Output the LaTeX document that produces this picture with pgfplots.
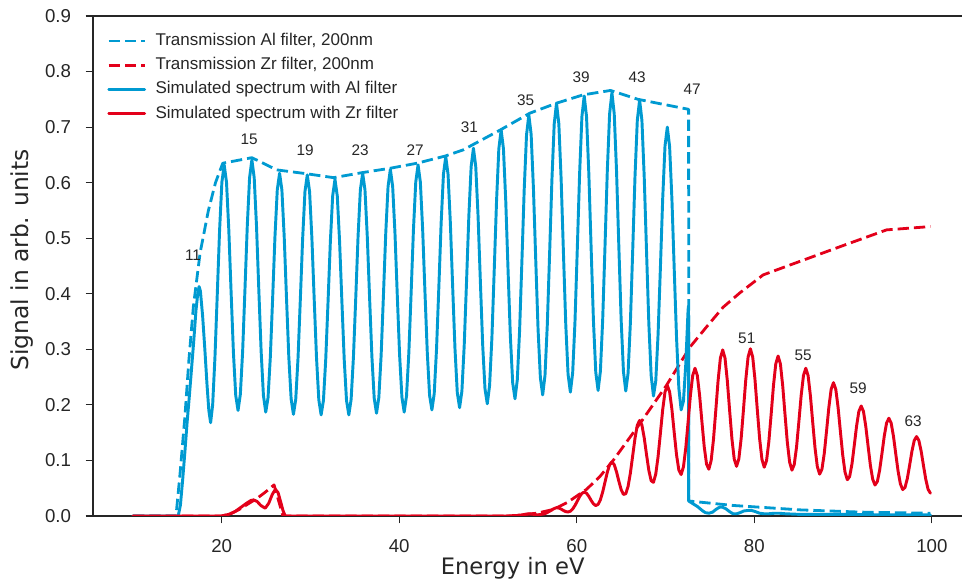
\documentclass[border=0pt]{standalone}
\usepackage{pgfplots}
\pgfplotsset{compat=1.18}
\usepackage{fontspec}
\setmainfont{Liberation Sans}
\newfontfamily\dejavu{DejaVu Sans}
\definecolor{alblue}{RGB}{0,154,209}
\definecolor{zrred}{RGB}{227,0,26}
\definecolor{txt}{RGB}{38,38,38}
\begin{document}
\begin{tikzpicture}
\begin{axis}[
  at={(0,0)}, anchor=south west,
  scale only axis, width=651.75pt, height=375pt,
  xmin=5.5, xmax=103.4, ymin=0, ymax=0.9,
  axis x line*=box, axis y line*=left,
  xtick pos=bottom, ytick pos=left,
  xtick={20,40,60,80,100},
  ytick={0,0.1,0.2,0.3,0.4,0.5,0.6,0.7,0.8,0.9},
  tick align=outside, major tick length=5.5pt,
  tick style={txt, line width=0.9pt},
  axis line style={txt, line width=0.9pt},
  /pgf/number format/assume math mode=true,
  ticklabel style={font=\fontsize{14}{16}\selectfont, text=txt},
  xticklabel style={yshift=-8.5pt},
  yticklabel style={xshift=-7.5pt, /pgf/number format/.cd, fixed, fixed zerofill, precision=1, /tikz/.cd},
  xlabel={Energy in eV},
  ylabel={Signal in arb. units},
  xlabel style={font=\dejavu\fontsize{17}{20}\selectfont, text=txt, at={(axis description cs:0.483,0)}, anchor=base, yshift=-44.25pt},
  ylabel style={font=\dejavu\fontsize{17.5}{20}\selectfont, text=txt, at={(axis description cs:-0.0817,0.512)}, anchor=center},
  legend style={at={(0,1)}, anchor=north west, xshift=10.5pt, yshift=-12.25pt,
    draw=none, fill=none, inner sep=0pt, font=\fontsize{12.75}{15}\selectfont, text=txt,
    row sep=5.7pt, column sep=7pt,
    nodes={inner sep=0pt, text height=9.5pt, text depth=3pt}},
  legend cell align=left,
  legend image code/.code={\draw[#1] (0pt,0pt) -- (27pt,0pt);},
  dashstyle/.style={line width=2.1pt, dash pattern=on 8.5pt off 3.75pt, line join=round},
  solidstyle/.style={line width=2.2pt, line join=round, line cap=round},
]
% Transmission Al filter (dashed)
\addplot[alblue, dashstyle] coordinates {
(10,0) (14.85,0) (15.3,.075) (15.86,.18) (16.3,.28) (16.81,.377) (17.56,.473) (18.5,.55) (19.3,.60) (20.12,.635)
(23.4,.645) (26.2,.623) (29.6,.616) (32.6,.609) (35.8,.618) (39.0,.626) (42.0,.635) (45.2,.648) (47.2,.659)
(51.4,.695) (54.7,.725) (57.7,.743) (60.7,.758) (63.8,.766) (66.9,.750) (72.6,.732) (72.62,.027)
(77.6,.019) (85.2,.011) (92,.007) (99.84,.005)
};
\addlegendentry{Transmission Al filter, 200nm}
% Transmission Zr filter (dashed)
\addplot[zrred, dashstyle] coordinates {
(10,0) (20,0) (21,.004) (22,.012) (23,.022) (24,.032) (25,.044) (25.9,.056) (26.9,0) (53,0)
(53.6,.002) (55.5,.005) (57.4,.012) (59.0,.025) (61.1,.048) (62.6,.071) (64.1,.100) (67.1,.166)
(70.1,.235) (72.8,.305) (74.6,.34) (76.5,.376) (78.4,.402) (81.0,.434) (84.4,.454) (89.7,.485)
(94.9,.515) (99.84,.521)
};
\addlegendentry{Transmission Zr filter, 200nm}
% Simulated spectrum with Al filter
\addplot[alblue, solidstyle] coordinates {
(10,0) (15.1,0) (15.35,.02) (15.6,.065) (15.85,.115) (16.1,.168) (16.35,.215) (16.6,.265) (16.85,.315)
(17.1,.37) (17.3,.40) (17.45,.413) (17.6,.405) (17.85,.36) (18.1,.30) (18.35,.235) (18.55,.19) (18.75,.168)
(18.98,.20) (19.24,.286) (19.5,.399) (19.76,.514) (20.02,.601)
(20.28,.632) (20.54,.601) (20.80,.515) (21.06,.402) (21.32,.294) (21.58,.217) (21.84,.190) (22.10,.219) (22.36,.297) (22.62,.408) (22.88,.522) (23.14,.609)
(23.40,.641) (23.66,.609) (23.92,.522) (24.18,.407) (24.44,.297) (24.70,.217) (24.96,.187) (25.22,.213) (25.48,.287) (25.74,.393) (26.00,.503) (26.26,.587)
(26.52,.617) (26.78,.587) (27.04,.503) (27.30,.392) (27.56,.286) (27.82,.211) (28.08,.183) (28.34,.210) (28.60,.285) (28.86,.391) (29.12,.500) (29.38,.584)
(29.64,.614) (29.90,.584) (30.16,.500) (30.42,.390) (30.68,.285) (30.94,.209) (31.20,.182) (31.46,.208) (31.72,.282) (31.98,.386) (32.24,.494) (32.50,.576)
(32.76,.606) (33.02,.576) (33.28,.494) (33.54,.386) (33.80,.282) (34.06,.208) (34.32,.182) (34.58,.210) (34.84,.286) (35.10,.392) (35.36,.503) (35.62,.587)
(35.88,.617) (36.14,.587) (36.40,.503) (36.66,.393) (36.92,.287) (37.18,.212) (37.44,.185) (37.70,.213) (37.96,.289) (38.22,.397) (38.48,.509) (38.74,.593)
(39.00,.624) (39.26,.593) (39.52,.509) (39.78,.397) (40.04,.290) (40.30,.214) (40.56,.187) (40.82,.216) (41.08,.293) (41.34,.402) (41.60,.515) (41.86,.601)
(42.12,.632) (42.38,.601) (42.64,.515) (42.90,.402) (43.16,.294) (43.42,.217) (43.68,.191) (43.94,.220) (44.20,.300) (44.46,.411) (44.72,.527) (44.98,.615)
(45.24,.647) (45.50,.615) (45.76,.527) (46.02,.412) (46.28,.301) (46.54,.222) (46.80,.195) (47.06,.225) (47.32,.307) (47.58,.421) (47.84,.539) (48.10,.629)
(48.36,.662) (48.62,.629) (48.88,.540) (49.14,.422) (49.40,.308) (49.66,.229) (49.92,.202) (50.18,.235) (50.44,.321) (50.70,.442) (50.96,.566) (51.22,.661)
(51.48,.695) (51.74,.661) (52.00,.567) (52.26,.442) (52.52,.323) (52.78,.240) (53.04,.211) (53.30,.245) (53.56,.334) (53.82,.459) (54.08,.588) (54.34,.686)
(54.60,.722) (54.86,.687) (55.12,.589) (55.38,.460) (55.64,.336) (55.90,.249) (56.16,.218) (56.42,.253) (56.68,.344) (56.94,.472) (57.20,.605) (57.46,.706)
(57.72,.743) (57.98,.706) (58.24,.606) (58.50,.473) (58.76,.345) (59.02,.255) (59.28,.223) (59.54,.258) (59.80,.350) (60.06,.481) (60.32,.616) (60.58,.719)
(60.84,.756) (61.10,.719) (61.36,.616) (61.62,.481) (61.88,.351) (62.14,.259) (62.40,.226) (62.66,.260) (62.92,.353) (63.18,.485) (63.44,.621) (63.70,.724)
(63.96,.762) (64.22,.724) (64.48,.621) (64.74,.485) (65.00,.353) (65.26,.260) (65.52,.225) (65.78,.257) (66.04,.348) (66.30,.477) (66.56,.611) (66.82,.712)
(67.08,.749) (67.34,.712) (67.60,.610) (67.86,.476) (68.12,.346) (68.38,.253) (68.64,.216) (68.90,.243) (69.16,.327) (69.42,.446) (69.68,.571) (69.94,.666)
(70.20,.700) (70.46,.665) (70.72,.570) (70.98,.444) (71.24,.321) (71.50,.230) (71.76,.191) (72.02,.207) (72.28,.273) (72.54,.371) (72.59,.378) (72.61,.027)
(72.9,.024) (73.3,.020) (73.6,.017) (73.9,.013) (74.2,.009) (74.5,.006) (74.9,.005) (75.3,.007) (75.7,.012) (76.1,.016) (76.4,.016) (76.8,.013)
(77.2,.008) (77.6,.004) (78.0,.004) (78.4,.006) (78.8,.009) (79.3,.010) (79.7,.010) (80.1,.008) (80.6,.005) (81.1,.004) (81.6,.004) (82.3,.005)
(82.8,.005) (83.5,.004) (85,.003) (90,.003) (95,.002) (99.84,.002)
};
\addlegendentry{Simulated spectrum with Al filter}
% Simulated spectrum with Zr filter
\addplot[zrred, solidstyle] coordinates {
(10,0) (20,0) (20.8,.003) (21.5,.008) (22.2,.016) (22.8,.023) (23.3,.028) (23.6,.029) (24.0,.026) (24.4,.019)
(24.9,.014) (25.3,.023) (25.7,.039) (26.05,.048) (26.35,.042) (26.65,.025) (26.9,.01) (27.15,0) (52,0)
(53.4,.001) (54.6,.004) (55.6,.002) (56.4,.004) (57.0,.009) (57.4,.013)
(57.72,.015) (57.98,.0143) (58.24,.0124) (58.50,.0099) (58.76,.0079) (59.02,.0072) (59.28,.0086) (59.54,.0126) (59.80,.019) (60.06,.0269) (60.32,.0349) (60.58,.0408)
(60.84,.043) (61.10,.041) (61.36,.0353) (61.62,.0281) (61.88,.0218) (62.14,.0188) (62.40,.0209) (62.66,.0291) (62.92,.0432) (63.18,.0609) (63.44,.0788) (63.70,.0921)
(63.96,.0973) (64.22,.0924) (64.48,.0795) (64.74,.0627) (65.00,.0475) (65.26,.0388) (65.52,.0401) (65.78,.0532) (66.04,.0773) (66.30,.1084) (66.56,.1398) (66.82,.1634)
(67.08,.172) (67.34,.1636) (67.60,.1405) (67.86,.1103) (68.12,.082) (68.38,.0635) (68.64,.0606) (68.90,.0756) (69.16,.1068) (69.42,.1486) (69.68,.1913) (69.94,.2233)
(70.20,.235) (70.46,.2235) (70.72,.1917) (70.98,.1499) (71.24,.110) (71.50,.0827) (71.76,.0746) (72.02,.0886) (72.28,.1224) (72.54,.1688) (72.80,.2167) (73.06,.2528)
(73.32,.266) (73.58,.2529) (73.84,.217) (74.10,.1697) (74.36,.1246) (74.62,.0934) (74.88,.0842) (75.14,.0998) (75.40,.1376) (75.66,.1897) (75.92,.2435) (76.18,.2843)
(76.44,.299) (76.70,.2843) (76.96,.2437) (77.22,.1902) (77.48,.1388) (77.74,.1024) (78.00,.0894) (78.26,.1028) (78.52,.1396) (78.78,.1914) (79.04,.2453) (79.30,.2861)
(79.56,.301) (79.82,.2861) (80.08,.2452) (80.34,.1912) (80.60,.1392) (80.86,.102) (81.12,.0878) (81.38,.0995) (81.64,.134) (81.90,.1833) (82.16,.2348) (82.42,.2738)
(82.68,.288) (82.94,.2738) (83.20,.2346) (83.46,.1828) (83.72,.1328) (83.98,.0969) (84.24,.0825) (84.50,.0926) (84.76,.1242) (85.02,.1695) (85.28,.2169) (85.54,.2529)
(85.80,.266) (86.06,.2528) (86.32,.2167) (86.58,.1689) (86.84,.1226) (87.10,.089) (87.36,.0754) (87.62,.0841) (87.88,.1122) (88.14,.153) (88.40,.1957) (88.66,.2283)
(88.92,.240) (89.18,.2281) (89.44,.1954) (89.70,.1521) (89.96,.1099) (90.22,.079) (90.48,.0653) (90.74,.0709) (91.00,.0933) (91.26,.1266) (91.52,.1616) (91.78,.1883)
(92.04,.198) (92.30,.1882) (92.56,.1613) (92.82,.1257) (93.08,.0911) (93.34,.0661) (93.60,.0557) (93.86,.0619) (94.12,.0824) (94.38,.1123) (94.64,.1436) (94.90,.1673)
(95.16,.176) (95.42,.1672) (95.68,.1433) (95.94,.1115) (96.20,.0806) (96.46,.0577) (96.72,.0475) (96.98,.0514) (97.24,.0675) (97.50,.0914) (97.76,.1167) (98.02,.136)
(98.28,.143) (98.54,.1359) (98.80,.1165) (99.06,.0907) (99.32,.0659) (99.58,.048) (99.84,.041)
};
\addlegendentry{Simulated spectrum with Zr filter}
% harmonic order labels
\begin{scope}[every node/.style={font=\fontsize{11.5}{13}\selectfont, text=txt}]
\node at (axis cs:16.77,0.470) {11};
\node at (axis cs:23.1,0.678) {15};
\node at (axis cs:29.4,0.659) {19};
\node at (axis cs:35.6,0.659) {23};
\node at (axis cs:41.8,0.659) {27};
\node at (axis cs:47.9,0.699) {31};
\node at (axis cs:54.25,0.749) {35};
\node at (axis cs:60.5,0.789) {39};
\node at (axis cs:66.8,0.789) {43};
\node at (axis cs:73.0,0.768) {47};
\node at (axis cs:79.15,0.320) {51};
\node at (axis cs:85.5,0.290) {55};
\node at (axis cs:91.7,0.230) {59};
\node at (axis cs:97.9,0.170) {63};
\end{scope}
\end{axis}
\pgfresetboundingbox
\useasboundingbox (-69.75pt,-51pt) rectangle (651.75pt,387pt);
\end{tikzpicture}
\end{document}
